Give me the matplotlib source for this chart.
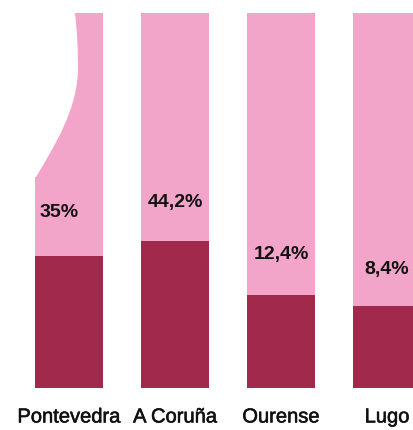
import matplotlib
matplotlib.use("Agg")
import matplotlib.pyplot as plt
import matplotlib.patheffects as pe
import numpy as np
from matplotlib.path import Path
from matplotlib.patches import PathPatch

categories = ["Pontevedra", "A Coruña", "Ourense", "Lugo"]
total_values = [100, 100, 100, 100]
dark_values = [35.2, 39.2, 24.8, 21.9]
labels = ["35%", "44,2%", "12,4%", "8,4%"]
label_y = [46.9, 49.6, 35.5, 31.5]
label_dx = [-0.09, 0.0, 0.0, 0.0]

pink = "#F3A4C9"
dark = "#A1294B"

fig = plt.figure(figsize=(4.14, 4.30), dpi=100)
ax = fig.add_axes([0, 42/430, 1, 375/430])
x = np.arange(len(categories))
w = 0.65
pink_bars = ax.bar(x, total_values, width=w, color=pink, zorder=1)
ax.bar(x, dark_values, width=w, color=dark, zorder=2)

# smooth curved notch at top-left of the first pink bar (clip)
def px2d(px, py):
    return ((px - 69) / 106.0, (388 - py) / 375.0 * 100)

clip_pts = [
    (Path.MOVETO, (75, 8)),
    (Path.LINETO, (75, 13)),
    (Path.CURVE4, (77, 30)), (Path.CURVE4, (78, 50)), (Path.CURVE4, (78, 70)),
    (Path.CURVE4, (77, 110)), (Path.CURVE4, (55, 145)), (Path.CURVE4, (36, 177)),
    (Path.LINETO, (30, 177)),
    (Path.LINETO, (30, 400)),
    (Path.LINETO, (115, 400)),
    (Path.LINETO, (115, 8)),
    (Path.CLOSEPOLY, (75, 8)),
]
codes = [c for c, _ in clip_pts]
verts = [px2d(*p) for _, p in clip_pts]
clip = PathPatch(Path(verts, codes), transform=ax.transData, facecolor="none", edgecolor="none")
ax.add_patch(clip)
pink_bars[0].set_clip_path(clip)

for xi, lab, ly, dx in zip(x, labels, label_y, label_dx):
    ax.text(xi + dx, ly, lab, ha="center", va="center", fontsize=14, fontweight="bold",
            family="Liberation Sans", color="#111111", zorder=3)

ax.set_xlim(-69/106, (414 - 69)/106)
ax.set_ylim(0, 100)
ax.set_xticks(x)
ax.set_xticklabels(categories, fontsize=14.5, family="Liberation Sans", color="#111111",
                   path_effects=[pe.withStroke(linewidth=0.4, foreground="#111111")])
ax.tick_params(axis="x", length=0, pad=14)
ax.set_yticks([])
for s in ax.spines.values():
    s.set_visible(False)

fig.savefig("out.png", dpi=100)
